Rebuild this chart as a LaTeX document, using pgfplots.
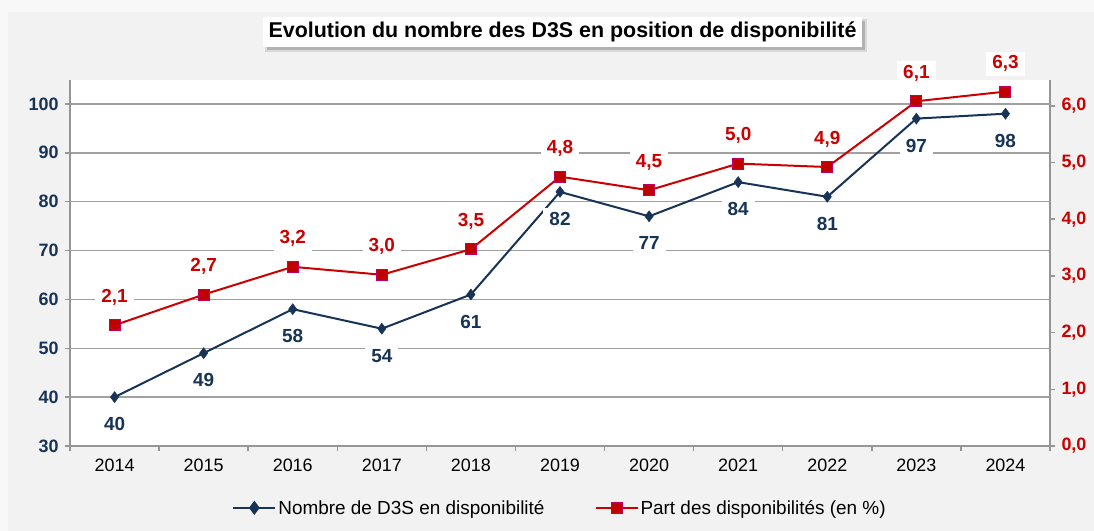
\documentclass[border=0pt]{standalone}
\usepackage{fontspec}
\setmainfont{Liberation Sans}
\usepackage{pgfplots}
\pgfplotsset{compat=1.18}
\definecolor{navy}{RGB}{23,52,86}
\definecolor{dred}{RGB}{204,0,0}
\definecolor{sqfill}{RGB}{192,0,0}
\definecolor{sqdraw}{RGB}{190,0,100}
\definecolor{bg}{RGB}{242,242,242}
\definecolor{bgtop}{RGB}{248,248,248}
\definecolor{axgray}{RGB}{150,150,150}
\definecolor{gridgray}{RGB}{160,160,160}

\begin{document}
\begin{tikzpicture}[x=1bp,y=1bp]
\useasboundingbox (0,0) rectangle (1094,531);
\fill[bg] (0,0) rectangle (1094,531);
\fill[bgtop] (0,519) rectangle (1094,531);
\fill[bgtop] (0,0) rectangle (8,531);
\fill[white] (70,85) rectangle (1050,451);
% title box with shadow
\fill[gray!30] (265,479) rectangle (867,512);
\fill[gray!60] (267,481) rectangle (865,510);
\fill[white] (263,484) rectangle (862,514);
\node[font=\fontsize{21.5}{22}\selectfont\bfseries, text=black] at (562.5,499) {Evolution du nombre des D3S en position de disponibilité};

\begin{axis}[
  at={(70bp,85bp)}, anchor=south west, scale only axis,
  width=980bp, height=366bp,
  xmin=2013.5, xmax=2024.5, ymin=30, ymax=104.9,
  axis x line*=bottom, axis y line*=left,
  axis line style={axgray, line width=1.5bp},
  xtick={2014,2015,2016,2017,2018,2019,2020,2021,2022,2023,2024},
  xticklabels={2014,2015,2016,2017,2018,2019,2020,2021,2022,2023,2024},
  major x tick style={draw=none},
  minor xtick={2013.5,2014.5,2015.5,2016.5,2017.5,2018.5,2019.5,2020.5,2021.5,2022.5,2023.5,2024.5},
  minor x tick style={axgray, line width=1.5bp},
  minor tick length=5bp,
  ytick={30,40,50,60,70,80,90,100},
  yticklabels={30,40,50,60,70,80,90,100},
  y tick style={axgray, line width=1.5bp},
  major tick length=5bp,
  tick align=outside,
  ymajorgrids, grid style={gridgray, line width=1.5bp},
  yticklabel style={font=\fontsize{18}{18}\selectfont\bfseries, text=navy, xshift=-3bp},
  xticklabel style={font=\fontsize{18}{18}\selectfont, text=black, yshift=-4bp},
  clip=false,
]
\addplot[navy, line width=2bp, mark=diamond*, mark size=5.5bp, mark options={fill=navy, draw=navy, line width=0.5bp},
  point meta=explicit symbolic,
  nodes near coords,
  nodes near coords style={font=\fontsize{19}{19}\selectfont\bfseries, text=navy, fill=white, anchor=center, yshift=-27bp, inner xsep=6bp, inner ysep=4bp}]
coordinates {(2014,40) [40] (2015,49) [49] (2016,58) [58] (2017,54) [54] (2018,61) [61] (2019,82) [82] (2020,77) [77] (2021,84) [84] (2022,81) [81] (2023,97) [97] (2024,98) [98]};
\end{axis}

\begin{axis}[
  at={(70bp,85bp)}, anchor=south west, scale only axis,
  width=980bp, height=366bp,
  xmin=2013.5, xmax=2024.5, ymin=0, ymax=6.455,
  axis x line=none, axis y line*=right,
  axis line style={axgray, line width=1.5bp},
  ytick={0,1,2,3,4,5,6},
  yticklabels={{0,0},{1,0},{2,0},{3,0},{4,0},{5,0},{6,0}},
  y tick style={axgray, line width=1.5bp},
  major tick length=5bp,
  tick align=outside,
  yticklabel style={font=\fontsize{18}{18}\selectfont\bfseries, text=dred, xshift=3bp},
  clip=false,
  legend style={at={(0.5,-0.169)}, anchor=center, draw=none, fill=none,
    font=\fontsize{19}{19}\selectfont, legend columns=2,
    /tikz/every even column/.append style={column sep=48bp},
    legend cell align=left},
  legend image code/.code={\draw[mark repeat=2,mark phase=2,#1] plot coordinates {(0bp,0bp)(21bp,0bp)(42bp,0bp)};},
]
\addlegendimage{navy, line width=2bp, mark=diamond*, mark size=5.5bp, mark options={fill=navy, draw=navy}}
\addlegendentry{Nombre de D3S en disponibilité}
\addplot[dred, line width=2bp, mark=square*, mark size=5.5bp, mark options={fill=sqfill, draw=sqdraw, line width=1bp},
  point meta=explicit symbolic,
  nodes near coords,
  nodes near coords style={font=\fontsize{19}{19}\selectfont\bfseries, text=dred, fill=white, anchor=center, yshift=28bp, inner xsep=6bp, inner ysep=4bp}]
coordinates {(2014,2.13) [2,1] (2015,2.67) [2,7] (2016,3.16) [3,2] (2017,3.02) [3,0] (2018,3.47) [3,5] (2019,4.75) [4,8] (2020,4.51) [4,5] (2021,4.98) [5,0] (2022,4.92) [4,9] (2023,6.08) [6,1] (2024,6.25) [6,3]};
\addlegendentry{Part des disponibilités (en \%)}
\end{axis}
\end{tikzpicture}
\end{document}
